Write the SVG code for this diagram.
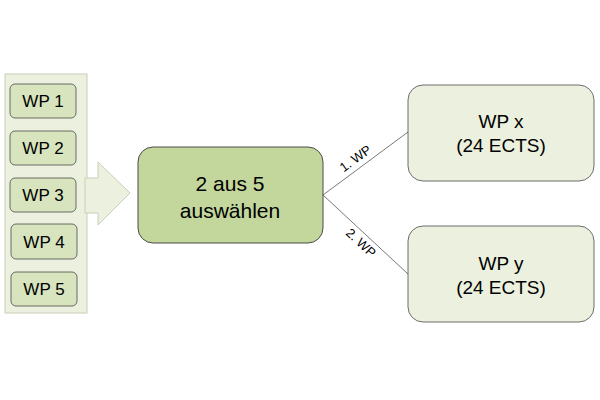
<svg xmlns="http://www.w3.org/2000/svg" width="600" height="400" viewBox="0 0 600 400">
<style>
text{font-family:"Liberation Sans",Arial,sans-serif;fill:#000;text-anchor:middle}
.wp{fill:#d7e4bd;stroke:#4a4a4a;stroke-width:0.8}
.big{fill:#c3d69b;stroke:#4a4a4a;stroke-width:1}
.rt{fill:#ebf1de;stroke:#4a4a4a;stroke-width:0.8}
.c{stroke:#555;stroke-width:0.8;fill:none}
</style>
<rect width="600" height="400" fill="#fff"/>
<g id="panel">
<rect x="5" y="74" width="82" height="239" fill="#ebf1de" stroke="#c8d0b8"/>
<polygon points="85,178 98,178 98,162 130,193 98,225 98,213 85,213" fill="#ebf1de" stroke="#c8d0b8"/>
</g>
<g id="wp1"><rect class="wp" x="10" y="84" width="66" height="34" rx="5"/><text x="43" y="107" font-size="17">WP 1</text></g>
<g id="wp2"><rect class="wp" x="10" y="131" width="66" height="34" rx="5"/><text x="43" y="154" font-size="17">WP 2</text></g>
<g id="wp3"><rect class="wp" x="10" y="178" width="66" height="34" rx="5"/><text x="43" y="201" font-size="17">WP 3</text></g>
<g id="wp4"><rect class="wp" x="11" y="224" width="66" height="35" rx="5"/><text x="44" y="248" font-size="17">WP 4</text></g>
<g id="wp5"><rect class="wp" x="11" y="272" width="66" height="34" rx="5"/><text x="44" y="295" font-size="17">WP 5</text></g>
<g id="connectors">
<line class="c" x1="323" y1="195" x2="408" y2="132"/>
<line class="c" x1="323" y1="195" x2="408" y2="274"/>
<text x="358" y="162" font-size="13" transform="rotate(-36 358 162)">1. WP</text>
<text x="358" y="246" font-size="13" transform="rotate(43 358 246)">2. WP</text>
</g>
<g id="main"><rect class="big" x="138" y="147" width="185" height="96" rx="15"/><text x="230" y="191" font-size="21">2 aus 5</text><text x="230" y="218" font-size="21">auswählen</text></g>
<g id="wpx"><rect class="rt" x="408" y="85" width="186" height="96" rx="15"/><text x="501" y="128" font-size="19">WP x</text><text x="501" y="152" font-size="19">(24 ECTS)</text></g>
<g id="wpy"><rect class="rt" x="408" y="226" width="186" height="96" rx="15"/><text x="501" y="270" font-size="19">WP y</text><text x="501" y="294" font-size="19">(24 ECTS)</text></g>
</svg>
